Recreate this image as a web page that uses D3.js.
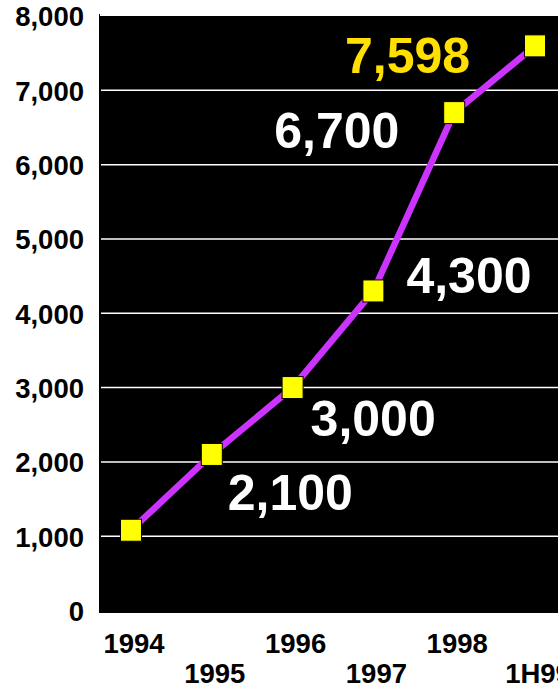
<!DOCTYPE html>
<html><head><meta charset="utf-8">
<script src="https://cdn.jsdelivr.net/npm/d3@7"></script>
<style>
html,body{margin:0;padding:0;background:#fff;overflow:hidden;}
svg{display:block;font-family:"Liberation Sans",Arial,Helvetica,sans-serif;font-weight:bold;}
</style></head>
<body>
<svg id="chart" width="558" height="688"></svg>
<script>
const categories = ["1994","1995","1996","1997","1998","1H99"];
const values = [1080, 2100, 3000, 4300, 6700, 7598];
const dataLabels = ["", "2,100", "3,000", "4,300", "6,700", "7,598"];
const yTicks = [0,1000,2000,3000,4000,5000,6000,7000,8000];

const svg = d3.select("#chart");
const plot = {left: 99, top: 16, right: 600, bottom: 613};

const x = d3.scalePoint().domain(categories).range([131, 535]);
const y = d3.scaleLinear().domain([0, 8000]).range([610.5, 16]);

// plot background
svg.append("rect").attr("x", plot.left).attr("y", plot.top)
  .attr("width", plot.right - plot.left).attr("height", plot.bottom - plot.top)
  .attr("fill", "#000");

// gridlines
svg.append("g").selectAll("line").data(yTicks.filter(d => d > 0 && d < 8000)).join("line")
  .attr("x1", 101).attr("x2", 600)
  .attr("y1", d => y(d)).attr("y2", d => y(d))
  .attr("stroke", "#fff").attr("stroke-width", 1.5);

// left axis stub
svg.append("line").attr("x1", 99.5).attr("x2", 99.5).attr("y1", 14).attr("y2", 16)
  .attr("stroke", "#000").attr("stroke-width", 1);

// y axis labels
const yAxis = d3.axisLeft(y).tickValues(yTicks).tickSize(0).tickPadding(0)
  .tickFormat(d3.format(","));
const ya = svg.append("g").attr("transform", "translate(84,0)").call(yAxis);
ya.select(".domain").remove();
ya.selectAll("text").attr("font-size", 27.5).attr("font-weight", "bold")
  .attr("font-family", '"Liberation Sans",Arial,sans-serif').attr("fill", "#000")
  .attr("dy", "0.36em");

// x axis labels (staggered)
svg.append("g").selectAll("text").data(categories).join("text")
  .attr("x", d => x(d) + 3)
  .attr("y", (d, i) => i % 2 === 0 ? 653 : 683)
  .attr("text-anchor", "middle")
  .attr("font-size", 27.5).attr("fill", "#000")
  .text(d => d);

// data label backgrounds + labels
const labelPos = [
  null,
  {dx: 16, base: 510},
  {dx: 18, base: 436},
  {dx: 33, base: 293},
  {dx: -180, base: 148},
  {dx: -190, base: 73}
];
const lg = svg.append("g");
values.forEach((v, i) => {
  if (!dataLabels[i]) return;
  const p = labelPos[i];
  const lx = x(categories[i]) + p.dx;
  const t = lg.append("text").attr("x", lx).attr("y", p.base)
    .attr("font-size", 50).attr("fill", i === 5 ? "#FFE000" : "#fff")
    .text(dataLabels[i]);
  const bb = t.node().getBBox();
  lg.insert("rect", "text").attr("x", bb.x - 2).attr("y", bb.y + 4)
    .attr("width", bb.width + 10).attr("height", bb.height - 4).attr("fill", "#000");
});

// line
const line = d3.line().x((d, i) => x(categories[i])).y(d => y(d));
svg.append("path").datum(values).attr("d", line)
  .attr("fill", "none").attr("stroke", "#CC33FF").attr("stroke-width", 6.5);

// markers
svg.append("g").selectAll("rect").data(values).join("rect")
  .attr("x", (d, i) => x(categories[i]) - 10.5)
  .attr("y", d => y(d) - 11)
  .attr("width", 21).attr("height", 22)
  .attr("fill", "#FFFF00").attr("stroke", "#000").attr("stroke-width", 1);
</script>
</body></html>
